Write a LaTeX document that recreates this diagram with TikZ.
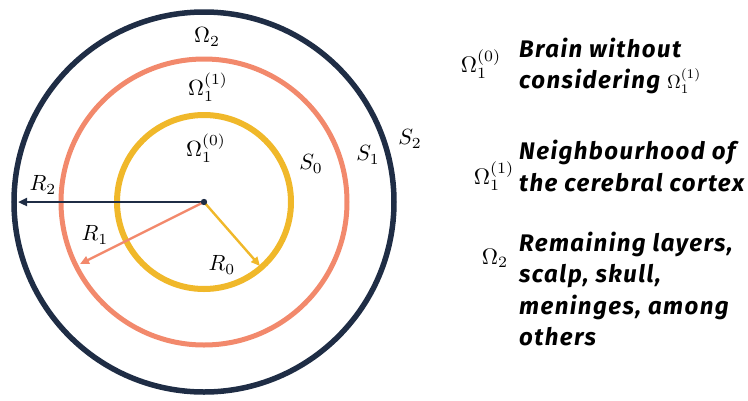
\documentclass[tikz,border=0pt]{standalone}
\usepackage{fontspec}
\usepackage{graphicx}
\newfontfamily\legfont[LetterSpace=6]{Fira Sans}
\usetikzlibrary{arrows.meta}
\definecolor{navy}{HTML}{1F2D45}
\definecolor{salmon}{HTML}{F2896C}
\definecolor{gold}{HTML}{F0B82A}
\newcommand{\myringmath}[1]{\scalebox{2.2}{$#1$}}
\newcommand{\mylegmath}[1]{\scalebox{2.25}{$#1$}}
\begin{document}
\begin{tikzpicture}[x=1pt,y=-1pt,
  ring/.style={line width=#1},
  rad/.style={line width=2.4pt,-{Triangle[length=9pt,width=8pt]}},
  mlab/.style={inner sep=0pt},
  leg/.style={inner sep=0pt,anchor=west,align=left,font=\legfont\bfseries\itshape\fontsize{24}{31.3}\selectfont},
  legsym/.style={inner sep=0pt}]
\useasboundingbox (0,0) rectangle (748,400);
\coordinate (c) at (204,202);
% rings
\draw[navy,ring=5.5pt] (c) circle[radius=190];
\draw[salmon,ring=5pt] (c) circle[radius=143];
\draw[gold,ring=6pt] (c) circle[radius=87];
% radii
\coordinate (e2) at (18,202);
\coordinate (e1) at (80,264);
\coordinate (e0) at (260,266);
\draw[rad,navy] (c) -- (e2);
\draw[rad,salmon] (c) -- (e1);
\draw[rad,gold] (c) -- (e0);
\fill[navy] (c) circle[radius=3.2];
% circle labels
\node[mlab] (o2) at (207,37) {\myringmath{\Omega_2}};
\node[mlab] (o11) at (208,87) {\myringmath{\Omega_1^{(1)}}};
\node[mlab] (o10) at (206,148) {\myringmath{\Omega_1^{(0)}}};
\node[mlab] (s0) at (311,164) {\myringmath{S_0}};
\node[mlab] (s1) at (368,155) {\myringmath{S_1}};
\node[mlab] (s2) at (410,139) {\myringmath{S_2}};
\node[mlab] (r2) at (43,185) {\myringmath{R_2}};
\node[mlab] (r1) at (95,235) {\myringmath{R_1}};
\node[mlab] (r0) at (222,265) {\myringmath{R_0}};
% legend
\node[legsym] (l0) at (481,64) {\mylegmath{\Omega_1^{(0)}}};
\node[leg] (t0) at (519,66) {Brain without\\considering {\fontsize{10}{12}\selectfont\scalebox{1.9}{$\Omega_1^{(1)}$}}};
\node[legsym] (l1) at (494,176) {\mylegmath{\Omega_1^{(1)}}};
\node[leg] (t1) at (519,166) {Neighbourhood of\\the cerebral cortex};
\node[legsym] (l2) at (495,258) {\mylegmath{\Omega_2}};
\node[leg] (t2) at (519,289) {Remaining layers,\\scalp, skull,\\meninges, among\\others};
\end{tikzpicture}
\end{document}
